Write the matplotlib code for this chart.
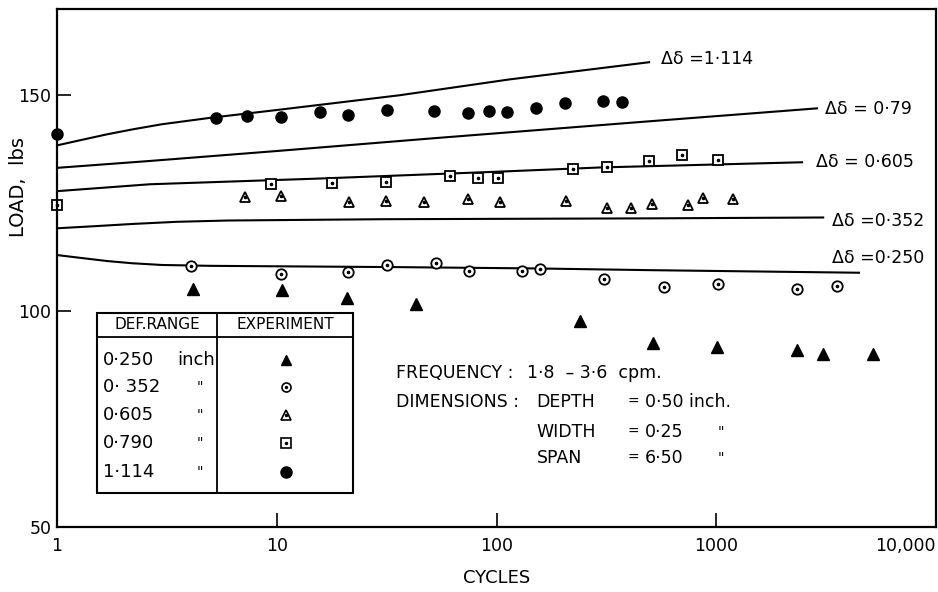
import matplotlib
matplotlib.use('Agg')
from matplotlib import pyplot as plt
from matplotlib.patches import Rectangle

plt.rcParams['font.family'] = ['DejaVu Sans']

# experiment points, cycles vs load (lbs)
cyc_1114 = [1, 5.3, 7.3, 10.5, 15.7, 21, 31.7, 52, 74, 92, 112, 152, 204, 304, 373]
load_1114 = [141.1, 144.8, 145.2, 145.0, 146.2, 145.4, 146.5, 146.3, 146.0, 146.3,
             146.2, 147.1, 148.3, 148.6, 148.5]

cyc_079 = [1, 9.4, 17.8, 31.3, 61.6, 82.4, 101.6, 222, 317, 496, 701, 1016]
load_079 = [124.5, 129.4, 129.6, 130.0, 131.2, 130.8, 130.8, 132.9, 133.4, 134.7,
            136.1, 135.0]

cyc_0605 = [7.2, 10.5, 21.3, 31.5, 46.9, 74.2, 103.5, 207, 317, 410, 508, 746, 873, 1197]
load_0605 = [126.5, 126.6, 125.4, 125.6, 125.2, 125.9, 125.2, 125.5, 124.0, 123.8,
             124.9, 124.7, 126.3, 126.0]

cyc_0352 = [4.06, 10.5, 21.1, 31.8, 53, 74.7, 130, 157, 308, 578, 1018, 2330, 3545]
load_0352 = [110.4, 108.5, 109.0, 110.6, 111.1, 109.3, 109.2, 109.7, 107.4, 105.7,
             106.4, 105.2, 105.9]

cyc_0250 = [4.17, 10.6, 20.9, 43, 240, 515, 1008, 2330, 3060, 5170]
load_0250 = [105.2, 104.8, 103.1, 101.7, 97.8, 92.7, 91.8, 91.1, 90.1, 90.1]

curve_1114_x = [1, 1.3, 1.7, 2.2, 3, 5, 10, 36, 115, 500]
curve_1114_y = [138.4, 139.7, 141.0, 142.1, 143.3, 144.8, 146.6, 150.0, 153.7, 157.7]
curve_079_x = [1, 2.65, 10, 50, 500, 2904]
curve_079_y = [133.2, 134.8, 137.1, 140.0, 144.0, 147.0]
curve_0605_x = [1, 2.65, 15.2, 100, 300, 2483]
curve_0605_y = [127.8, 129.4, 130.7, 132.3, 133.3, 134.5]
curve_0352_x = [1, 1.5, 2.2, 3.5, 6, 30, 500, 3099]
curve_0352_y = [119.2, 119.7, 120.2, 120.7, 121.0, 121.3, 121.5, 121.7]
curve_0250_x = [1, 1.3, 1.7, 2.2, 3, 5, 36, 150, 500, 4509]
curve_0250_y = [113.0, 112.3, 111.6, 111.1, 110.7, 110.5, 110.2, 109.9, 109.5, 108.9]

curve_labels = ['\u0394\u03b4 =1\u00b7114', '\u0394\u03b4 = 0\u00b779',
                '\u0394\u03b4 = 0\u00b7605', '\u0394\u03b4 =0\u00b7352',
                '\u0394\u03b4 =0\u00b7250']
label_x = [561, 3126, 2842, 3363, 3363]
label_y = [158.4, 146.8, 134.5, 121.0, 112.4]

x_ticks = [1, 10, 100, 1000, 10000]
x_ticklabels = ['1', '10', '100', '1000', '10,000']
y_ticks = [50, 100, 150]

fig = plt.figure(figsize=(9.38, 5.92), dpi=100)
ax = fig.add_axes([0.0608, 0.1098, 0.9371, 0.875])

lw = 1.5
for cx, cy in [(curve_1114_x, curve_1114_y), (curve_079_x, curve_079_y),
               (curve_0605_x, curve_0605_y), (curve_0352_x, curve_0352_y),
               (curve_0250_x, curve_0250_y)]:
    ax.plot(cx, cy, color='black', lw=lw, solid_capstyle='butt')

for txt, tx, ty in zip(curve_labels, label_x, label_y):
    ax.text(tx, ty, txt, fontsize=12.5, ha='left', va='center')

dot = dict(ls='none', marker='o', ms=1.6, color='black', clip_on=False)
open_kw = dict(ls='none', mfc='white', mec='black', mew=1.3, clip_on=False)

ax.plot(cyc_1114, load_1114, ls='none', marker='o', ms=8, color='black', clip_on=False)
ax.plot(cyc_079, load_079, marker='s', ms=7, **open_kw)
ax.plot(cyc_079, load_079, **dot)
ax.plot(cyc_0605, load_0605, marker='^', ms=7.5, **open_kw)
ax.plot(cyc_0605, load_0605, **dot)
ax.plot(cyc_0352, load_0352, marker='o', ms=7.5, **open_kw)
ax.plot(cyc_0352, load_0352, **dot)
ax.plot(cyc_0250, load_0250, ls='none', marker='^', ms=8, color='black')

ax.set_xscale('log')
ax.set_xlim(1, 10000)
ax.set_ylim(50, 170)
ax.set_xticks(x_ticks)
ax.set_xticklabels(x_ticklabels)
ax.minorticks_off()
ax.get_xticklabels()[-1].set_horizontalalignment('right')
ax.set_yticks(y_ticks)
ax.tick_params(direction='in', length=10, width=1.2, labelsize=12.5)
ax.tick_params(axis='x', pad=7)
ax.tick_params(axis='y', pad=4)
for sp in ax.spines.values():
    sp.set_linewidth(1.6)

ax.set_xlabel('CYCLES', fontsize=13)
ax.xaxis.set_label_coords(0.5, -0.082)
ax.set_ylabel('LOAD,  lbs', fontsize=14)
ax.yaxis.set_label_coords(-0.033, 0.656)

# legend table
tr = ax.transAxes
ax.add_patch(Rectangle((0.0458, 0.0651), 0.291, 0.3474, fill=False, lw=1.5,
                       transform=tr))
ax.plot([0.0458, 0.3368], [0.3674, 0.3674], color='black', lw=1.3, transform=tr)
ax.plot([0.1817, 0.1817], [0.0651, 0.4125], color='black', lw=1.3, transform=tr)
ax.text(0.1138, 0.39, 'DEF.RANGE', fontsize=11, ha='center', va='center', transform=tr)
ax.text(0.2594, 0.39, 'EXPERIMENT', fontsize=11, ha='center', va='center', transform=tr)

row_names = ['0\u00b7250', '0\u00b7 352', '0\u00b7605', '0\u00b7790', '1\u00b7114']
row_units = ['inch', '"', '"', '"', '"']
row_y = [0.3224, 0.2697, 0.2162, 0.1616, 0.1068]
for i, (nm, un, ry) in enumerate(zip(row_names, row_units, row_y)):
    ax.text(0.0527, ry, nm, fontsize=13, ha='left', va='center', transform=tr)
    ax.text(0.1365 if i == 0 else 0.159, ry, un, fontsize=13 if i == 0 else 10,
            ha='left', va='center', transform=tr)

mx = 0.2605
ax.plot([mx], [row_y[0]], marker='^', ms=7, color='black', transform=tr)
ax.plot([mx], [row_y[1]], marker='o', ms=6.5, mfc='white', mec='black', mew=1.2, transform=tr)
ax.plot([mx], [row_y[1]], marker='o', ms=1.5, color='black', transform=tr)
ax.plot([mx], [row_y[2]], marker='^', ms=7, mfc='white', mec='black', mew=1.2, transform=tr)
ax.plot([mx], [row_y[2]], marker='o', ms=1.5, color='black', transform=tr)
ax.plot([mx], [row_y[3]], marker='s', ms=6.5, mfc='white', mec='black', mew=1.2, transform=tr)
ax.plot([mx], [row_y[3]], marker='o', ms=1.5, color='black', transform=tr)
ax.plot([mx], [row_y[4]], marker='o', ms=8, color='black', transform=tr)

# test conditions
fs = 12.5
ax.text(0.3857, 0.2967, 'FREQUENCY :', fontsize=fs, va='center', transform=tr)
ax.text(0.5344, 0.2967, '1\u00b78  \u2013 3\u00b76  cpm.', fontsize=fs, va='center', transform=tr)
ax.text(0.3857, 0.2419, 'DIMENSIONS :', fontsize=fs, va='center', transform=tr)
dim_names = ['DEPTH', 'WIDTH', 'SPAN']
dim_vals = ['0\u00b750 inch.', '0\u00b725', '6\u00b750']
dim_y = [0.2419, 0.1840, 0.1326]
for nm, v, dy in zip(dim_names, dim_vals, dim_y):
    ax.text(0.5457, dy, nm, fontsize=fs, va='center', transform=tr)
    ax.text(0.6485, dy, '=', fontsize=10, va='center', transform=tr)
    ax.text(0.669, dy, v, fontsize=fs, va='center', transform=tr)
for dy in dim_y[1:]:
    ax.text(0.752, dy, '"', fontsize=10, va='center', transform=tr)

fig.savefig('out.png', dpi=100)
